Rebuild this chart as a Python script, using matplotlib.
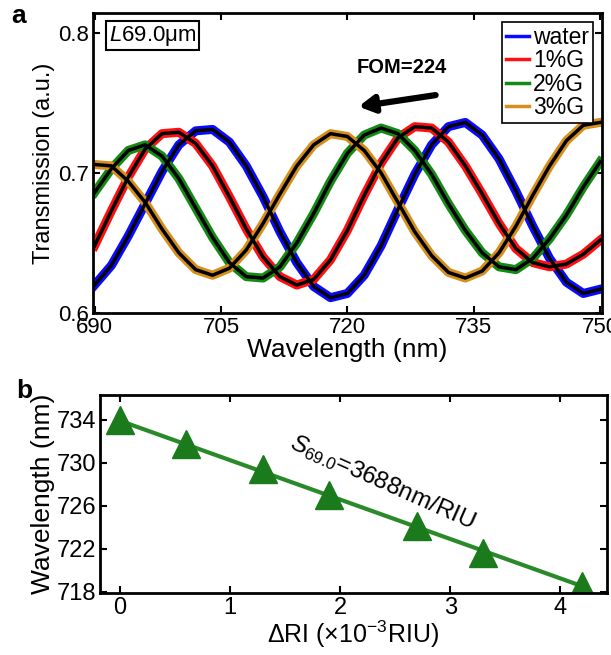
import matplotlib
matplotlib.use("Agg")
import matplotlib.pyplot as plt
import numpy as np

plt.rcParams['font.family'] = ['Liberation Sans', 'DejaVu Sans']
plt.rcParams['mathtext.fontset'] = 'custom'
plt.rcParams['mathtext.rm'] = 'Liberation Sans'
plt.rcParams['mathtext.it'] = 'Liberation Sans:italic'

# panel a: transmission spectra (values every 2 nm)
wavelength = np.arange(690, 751, 2)
water = [.620, .634, .655, .678, .701, .720, .730, .731, .722, .705, .683,
         .658, .636, .619, .611, .614, .627, .648, .674, .699, .720, .733,
         .736, .727, .710, .687, .662, .639, .622, .614, .617]
g1 = [.648, .673, .697, .717, .728, .729, .721, .705, .683, .660, .640,
      .626, .620, .624, .638, .659, .684, .707, .725, .733, .732, .722,
      .705, .685, .664, .646, .636, .633, .635, .642, .652]
g2 = [.686, .703, .716, .720, .712, .696, .675, .654, .636, .626, .625,
      .633, .650, .671, .694, .714, .727, .732, .728, .716, .699, .678,
      .659, .643, .633, .631, .639, .653, .670, .690, .708]
g3 = [.706, .705, .694, .679, .660, .643, .631, .627, .632, .645, .664,
      .685, .705, .720, .728, .726, .716, .700, .679, .658, .641, .629,
      .625, .630, .643, .662, .684, .705, .723, .734, .736]
labels = ['water', '1%G', '2%G', '3%G']
colors = ['#0a0aff', '#ff1010', '#148a14', '#d68e1c']

# panel b: dip wavelength vs refractive index change
dri = [0, 0.6, 1.3, 1.9, 2.7, 3.3, 4.2]
dip = [734.0, 731.7, 729.4, 727.0, 724.1, 721.6, 718.5]
fit_x = [0, 4.2]
fit_y = [733.9, 718.5]

fig = plt.figure(figsize=(6.11, 6.55), dpi=100)
ax1 = fig.add_axes([0.152, 0.522, 0.833, 0.458])
ax2 = fig.add_axes([0.164, 0.095, 0.829, 0.302])

for y, c, lab in zip([water, g1, g2, g3], colors, labels):
    ax1.plot(wavelength, y, color=c, lw=6.5, label=lab, solid_joinstyle='round')
for y in [water, g1, g2, g3]:
    ax1.plot(wavelength, y, color='black', lw=2.5, solid_joinstyle='round')

ax1.set_xlim(689.8, 750.2)
ax1.set_ylim(0.6, 0.814)
ax1.set_xticks([690, 705, 720, 735, 750])
ax1.set_yticks([0.6, 0.7, 0.8])
ax1.set_xlabel('Wavelength (nm)', fontsize=19, labelpad=0)
ax1.set_ylabel('Transmission (a.u.)', fontsize=17, labelpad=2)

leg = ax1.legend(loc='upper right', fontsize=16.5, handlelength=1.0,
                 handletextpad=0.2, labelspacing=0.02, borderpad=0.15,
                 fancybox=False, edgecolor='black', framealpha=1,
                 borderaxespad=0.4)
leg.get_frame().set_linewidth(1.2)
for h in leg.get_lines():
    h.set_linewidth(2.5)

ax1.text(0.032, 0.925, r'$\mathit{L}$69.0μm', transform=ax1.transAxes,
         fontsize=16, va='center', ha='left',
         bbox=dict(boxstyle='square,pad=0.12', fc='white', ec='black', lw=1.5))
ax1.text(726.5, 0.775, 'FOM=224', fontsize=14.5, fontweight='bold',
         ha='center', va='center')
ax1.annotate('', xy=(721.0, 0.747), xytext=(730.8, 0.7558),
             arrowprops=dict(arrowstyle='-|>,head_length=0.9,head_width=0.5',
                             color='black', lw=4.5))

ax2.plot(fit_x, fit_y, color='#2a8a2a', lw=3)
ax2.plot(dri, dip, ls='none', marker='^', ms=20, color='#1b7a1b')
ax2.set_xlim(-0.18, 4.42)
ax2.set_ylim(717.9, 736.3)
ax2.set_xticks([0, 1, 2, 3, 4])
ax2.set_yticks([718, 722, 726, 730, 734])
ax2.set_xlabel('ΔRI (×10$^{\\mathregular{-3}}$RIU)', fontsize=18, labelpad=0)
ax2.set_ylabel('Wavelength (nm)', fontsize=19, labelpad=1)
ax2.text(2.38, 728.2, r'$S_{\mathit{69.0}}$=3688nm/RIU', fontsize=17.5,
         rotation=-24, ha='center', va='center')

for ax in (ax1, ax2):
    for s in ax.spines.values():
        s.set_linewidth(2)
    ax.tick_params(direction='in', top=True, right=True, length=5, width=1.5,
                   labelsize=16, pad=3)
ax2.tick_params(labelsize=17)

fig.text(0.03, 0.975, 'a', fontsize=19, fontweight='bold', ha='center', va='center')
fig.text(0.04, 0.403, 'b', fontsize=19, fontweight='bold', ha='center', va='center')

fig.savefig('out.png', dpi=100)
